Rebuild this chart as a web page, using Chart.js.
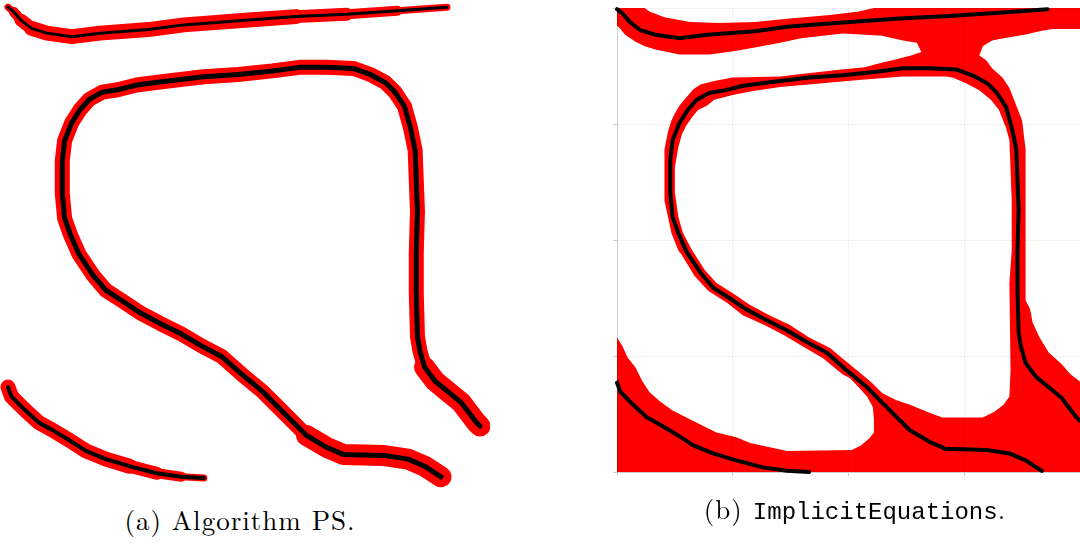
<!DOCTYPE html>
<html>
<head>
<meta charset="utf-8">
<title>Algorithm PS / ImplicitEquations</title>
<script src="https://cdn.jsdelivr.net/npm/chart.js@4.4.1/dist/chart.umd.min.js"></script>
<style>
	body { margin: 0; background: #fff; }
	#container { position: relative; width: 1080px; height: 545px; overflow: hidden; }
	.panel { position: absolute; }
	#panelA { left: 0; top: 0; width: 490px; height: 490px; }
	#panelB { left: 600px; top: 0; width: 480px; height: 490px; }
	.caption { position: absolute; white-space: nowrap; font-family: "Latin Modern Roman", "Liberation Serif", serif; font-size: 27px; letter-spacing: 1px; line-height: 1; color: #000; transform: translateX(-50%); }
	.caption code { font-family: "Liberation Mono", "DejaVu Sans Mono", monospace; font-size: 24px; letter-spacing: 0; }
</style>
</head>
<body>
<div id="container">
	<div class="panel" id="panelA"><canvas id="chartA"></canvas></div>
	<div class="panel" id="panelB"><canvas id="chartB"></canvas></div>
	<div class="caption" style="left:240px; top:506px">(a) Algorithm PS.</div>
	<div class="caption" style="left:855px; top:495px">(b) <code>ImplicitEquations</code>.</div>
</div>
<script>
// curves of the implicit equation, [x, y] in plot units (0..4 on both axes)
const topCurve = [[0,3.99],[0.05,3.95],[0.11,3.88],[0.20,3.81],[0.33,3.77],[0.54,3.74],[0.78,3.77],[1.19,3.80],[1.49,3.84],[2.01,3.88],[2.44,3.91],[2.87,3.93],[3.30,3.96],[3.72,3.99]]
const loopCurve = [[4.0,0.44],[3.97,0.47],[3.84,0.64],[3.73,0.73],[3.62,0.82],[3.53,0.94],[3.49,1.08],[3.47,1.20],[3.46,1.57],[3.46,1.91],[3.47,2.26],[3.45,2.78],[3.41,2.97],[3.36,3.15],[3.28,3.27],[3.20,3.35],[3.07,3.42],[2.93,3.47],[2.70,3.48],[2.47,3.48],[2.24,3.45],[1.95,3.42],[1.66,3.40],[1.32,3.36],[1.09,3.33],[0.93,3.29],[0.80,3.27],[0.69,3.21],[0.61,3.12],[0.54,3.01],[0.48,2.86],[0.46,2.69],[0.46,2.41],[0.48,2.20],[0.53,2.06],[0.60,1.90],[0.72,1.72],[0.83,1.59],[0.97,1.50],[1.12,1.40],[1.29,1.31],[1.47,1.22],[1.64,1.12],[1.81,1.03],[1.98,0.88],[2.16,0.73],[2.33,0.56],[2.53,0.36],[2.70,0.26],[2.84,0.20],[3.19,0.19],[3.39,0.16],[3.53,0.10],[3.67,0.01]]
const lowCurve = [[0,0.77],[0.03,0.69],[0.14,0.58],[0.26,0.47],[0.37,0.41],[0.52,0.32],[0.66,0.23],[0.83,0.16],[1.03,0.10],[1.26,0.04],[1.47,0.01],[1.66,0.0]]

// white gaps of the ImplicitEquations plot, the rest of the frame is red
const plotFrame = [[0,0],[4,0],[4,4],[0,4]]
const gapTop = [[0.24,4.0],[0.28,3.97],[0.41,3.92],[0.63,3.88],[0.89,3.87],[1.19,3.88],[1.49,3.91],[1.84,3.94],[2.09,3.97],[2.22,4.0]]
const gapLeft = [[0,3.85],[0.03,3.82],[0.07,3.77],[0.16,3.71],[0.24,3.67],[0.34,3.64],[0.54,3.60],[0.80,3.60],[1.02,3.63],[1.19,3.66],[1.41,3.70],[1.59,3.74],[1.95,3.78],[2.29,3.76],[2.47,3.72],[2.59,3.70],[2.63,3.62],[2.54,3.59],[2.38,3.55],[2.25,3.52],[2.14,3.49],[1.94,3.47],[1.59,3.43],[1.41,3.41],[1.00,3.40],[0.84,3.37],[0.72,3.34],[0.66,3.30],[0.60,3.23],[0.54,3.16],[0.50,3.09],[0.47,3.03],[0.44,2.93],[0.41,2.78],[0.41,2.34],[0.44,2.20],[0.47,2.06],[0.53,1.91],[0.56,1.87],[0.67,1.69],[0.79,1.56],[0.95,1.46],[1.09,1.35],[1.27,1.27],[1.44,1.18],[1.61,1.08],[1.78,0.98],[1.95,0.84],[2.01,0.81],[2.07,0.75],[2.16,0.65],[2.21,0.56],[2.22,0.45],[2.22,0.34],[2.18,0.29],[2.11,0.23],[2.03,0.19],[1.47,0.18],[1.29,0.22],[1.15,0.25],[1.03,0.30],[0.86,0.34],[0.72,0.41],[0.60,0.47],[0.48,0.53],[0.37,0.61],[0.28,0.69],[0.22,0.78],[0.16,0.90],[0.09,0.99],[0.05,1.08],[0,1.16]]
const gapInside = [[2.84,3.41],[2.47,3.41],[2.09,3.38],[1.75,3.35],[1.41,3.32],[1.15,3.28],[1.00,3.25],[0.84,3.21],[0.78,3.16],[0.70,3.12],[0.65,3.06],[0.60,2.99],[0.56,2.91],[0.53,2.80],[0.50,2.63],[0.50,2.41],[0.53,2.20],[0.57,2.06],[0.65,1.91],[0.76,1.74],[0.86,1.63],[1.00,1.54],[1.15,1.44],[1.32,1.35],[1.49,1.27],[1.66,1.16],[1.84,1.07],[2.02,0.92],[2.19,0.78],[2.29,0.68],[2.41,0.62],[2.53,0.58],[2.70,0.51],[2.81,0.47],[3.16,0.47],[3.26,0.52],[3.34,0.58],[3.39,0.65],[3.40,0.88],[3.39,1.63],[3.41,1.91],[3.41,2.34],[3.39,2.86],[3.36,2.97],[3.30,3.12],[3.23,3.21],[3.13,3.29],[3.02,3.35],[2.90,3.40]]
const gapRight = [[4.0,3.82],[3.76,3.82],[3.65,3.80],[3.52,3.77],[3.34,3.74],[3.24,3.72],[3.16,3.67],[3.13,3.59],[3.19,3.55],[3.24,3.48],[3.33,3.40],[3.39,3.31],[3.43,3.21],[3.50,3.03],[3.53,2.78],[3.53,2.34],[3.53,1.48],[3.57,1.40],[3.59,1.29],[3.65,1.16],[3.73,1.03],[3.84,0.93],[3.92,0.84],[4.0,0.78]]

const axisTicks = [0, 1, 2, 3, 4]

const RED = '#ff0000'
const BAND = 15 // largeur de la bande rouge (panneau a)

const toPoints = pairs => pairs.map(p => ({x: p[0], y: p[1]}))

const curveDataset = function(pairs, color, width) {
	return {
		data: toPoints(pairs),
		showLine: true,
		borderColor: color,
		borderWidth: width,
		borderCapStyle: 'round',
		borderJoinStyle: 'round',
		pointRadius: 0,
		fill: false,
		clip: 16
	}
}

// red band under a curve: pointed at free ends, wider over the first/last segments
const bandDataset = function(pairs, tipStart, tipEnd, wideStart = 0, wideEnd = 0) {
	const dataset = curveDataset(pairs, RED, BAND)
	const n = pairs.length
	dataset.segment = {
		borderWidth: ctx => {
			const i = ctx.p0DataIndex
			let w = BAND
			if (i < wideStart || i >= n - 1 - wideEnd) w = BAND + 6
			if (tipStart) w = Math.min(w, 7 + 3 * i)
			if (tipEnd) w = Math.min(w, 7 + 3 * (n - 2 - i))
			return w
		}
	}
	return dataset
}

const areaDataset = function(pairs, color) {
	return {
		data: toPoints(pairs),
		showLine: true,
		borderWidth: 0,
		pointRadius: 0,
		backgroundColor: color,
		fill: 'shape'
	}
}

const baseOptions = {
	responsive: true,
	maintainAspectRatio: false,
	animation: false,
	events: [],
	plugins: { legend: { display: false }, tooltip: { enabled: false } }
}

const hiddenAxis = { type: 'linear', min: 0, max: 4, display: false }

new Chart(document.getElementById('chartA'), {
	type: 'scatter',
	data: {
		datasets: [
			curveDataset(topCurve, '#000', 3),
			curveDataset(loopCurve, '#000', 5),
			curveDataset(lowCurve, '#000', 4),
			bandDataset(topCurve, true, true),
			bandDataset(loopCurve, false, false, 5, 6),
			bandDataset(lowCurve, false, true)
		]
	},
	options: {
		...baseOptions,
		layout: { padding: { left: 8, top: 6, right: 10, bottom: 12 } },
		scales: { x: hiddenAxis, y: hiddenAxis }
	}
})

const lightAxis = function(size) {
	return {
		type: 'linear',
		min: 0,
		max: 4,
		afterBuildTicks: scale => { scale.ticks = axisTicks.map(v => ({ value: v })) },
		afterFit: size,
		ticks: { display: false },
		grid: { color: 'rgba(0,0,0,0.05)', tickColor: 'rgba(0,0,0,0.2)', tickLength: 4, z: 1 },
		border: { color: 'rgba(0,0,0,0.15)', z: 1 }
	}
}

new Chart(document.getElementById('chartB'), {
	type: 'scatter',
	data: {
		datasets: [
			curveDataset(topCurve, '#000', 4),
			curveDataset(loopCurve, '#000', 4),
			curveDataset(lowCurve, '#000', 4),
			areaDataset(gapTop, '#fff'),
			areaDataset(gapLeft, '#fff'),
			areaDataset(gapInside, '#fff'),
			areaDataset(gapRight, '#fff'),
			areaDataset(plotFrame, RED)
		]
	},
	options: {
		...baseOptions,
		layout: { padding: { top: 8, right: 0 } },
		scales: {
			x: lightAxis(scale => { scale.height = 18 }),
			y: lightAxis(scale => { scale.width = 17 })
		}
	}
})
</script>
</body>
</html>
